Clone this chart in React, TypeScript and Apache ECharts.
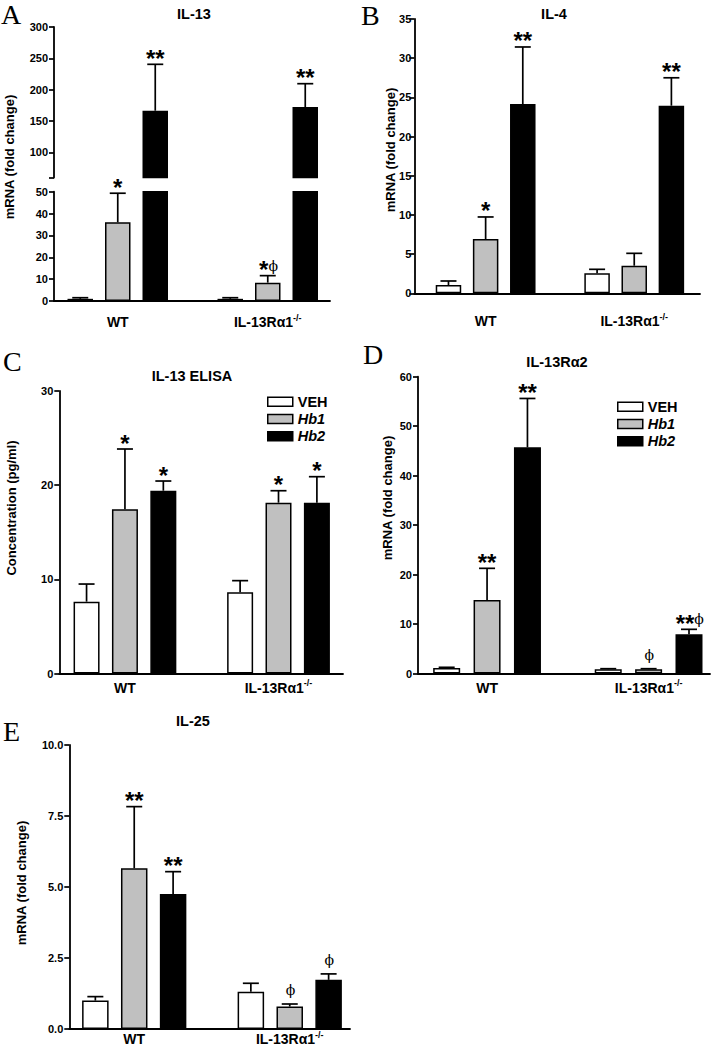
import React, { useEffect, useRef } from 'react';
import * as echarts from 'echarts';

const groups = ['WT', 'IL-13Rα1'];
const groupSup = ['', '-/-'];
const treatments = ['VEH', 'Hb1', 'Hb2'];

// rows: VEH, Hb1, Hb2 ; columns: WT, IL-13Rα1-/-
const il13Means = [[1.0, 1.0], [36.0, 8.4], [166.5, 172.4]];
const il13Tops = [[1.5, 1.5], [49.3, 11.6], [240.5, 209.6]];
const il13Sig = [['', ''], ['*', '*ϕ'], ['**', '**']];

const il4Means = [[1.06, 2.55], [6.93, 3.52], [24.15, 23.94]];
const il4Tops = [[1.57, 3.06], [9.74, 5.1], [31.43, 27.5]];
const il4Sig = [['', ''], ['*', ''], ['**', '**']];

const elisaMeans = [[7.63, 8.62], [17.43, 18.14], [19.41, 18.14]];
const elisaTops = [[9.5, 9.86], [23.84, 19.41], [20.44, 20.9]];
const elisaSig = [['', ''], ['*', '*'], ['*', '*']];

const ra2Means = [[1.1, 0.87], [14.86, 0.87], [45.72, 7.92]];
const ra2Tops = [[1.25, 0.97], [21.26, 0.97], [55.6, 8.93]];
const ra2Sig = [['', ''], ['**', 'ϕ'], ['**', '**ϕ']];

const il25Means = [[1.0, 1.31], [5.66, 0.79], [4.75, 1.73]];
const il25Tops = [[1.14, 1.61], [7.83, 0.88], [5.54, 1.94]];
const il25Sig = [['', ''], ['**', 'ϕ'], ['**', 'ϕ']];

const il13UpperTicks = [60, 100, 150, 200, 250, 300];
const il13UpperLabels = [100, 150, 200, 250, 300];

const FILL = ['#ffffff', '#c0c0c0', '#000000'];
const SANS = '"Liberation Sans", Arial, Helvetica, sans-serif';
const SERIF = '"Liberation Serif", "Times New Roman", serif';

const all = () => true;

function makeOption() {
  const parts: any[] = [
    { left: 54, top: 27, width: 276, height: 150.5, xMin: -0.7, xMax: 6.66, yMin: 60, yMax: 300,
      tickValues: il13UpperTicks, labelValues: il13UpperLabels, showX: false, labelMargin: 12, barWidth: 25.5, yMargin: 6,
      means: il13Means, tops: il13Tops, sig: il13Sig, barKeep: (m: number) => m > 60, errKeep: (m: number) => m > 60 },
    { left: 54, top: 191.7, width: 276, height: 109.3, xMin: -0.7, xMax: 6.66, yMin: 0, yMax: 50, interval: 10,
      showX: true, labelMargin: 12, barWidth: 25.5, yMargin: 6,
      means: il13Means, tops: il13Tops, sig: il13Sig, barKeep: all, errKeep: (m: number) => m <= 50 },
    { left: 414.3, top: 19, width: 285.7, height: 274.3, xMin: -0.92, xMax: 6.77, yMin: 0, yMax: 35, interval: 5,
      showX: true, labelMargin: 19, barWidth: 25.5, yMargin: 3,
      means: il4Means, tops: il4Tops, sig: il4Sig, barKeep: all, errKeep: all },
    { left: 59.3, top: 391, width: 283.7, height: 282.5, xMin: -0.71, xMax: 6.68, yMin: 0, yMax: 30, interval: 10,
      showX: true, labelMargin: 5, barWidth: 26, yMargin: 6,
      means: elisaMeans, tops: elisaTops, sig: elisaSig, barKeep: all, errKeep: all },
    { left: 418, top: 376.7, width: 292, height: 296.8, xMin: -0.71, xMax: 6.52, yMin: 0, yMax: 60, interval: 10,
      showX: true, labelMargin: 5, barWidth: 27, yMargin: 6,
      means: ra2Means, tops: ra2Tops, sig: ra2Sig, barKeep: all, errKeep: all },
    { left: 69.3, top: 745, width: 280.7, height: 284, xMin: -0.67, xMax: 6.55, yMin: 0, yMax: 10, interval: 2.5,
      showX: true, labelMargin: 1, barWidth: 26.5, yMargin: 6, fmt: (v: number) => v.toFixed(1),
      means: il25Means, tops: il25Tops, sig: il25Sig, barKeep: all, errKeep: all },
  ];

  const grid: any[] = [];
  const xAxis: any[] = [];
  const yAxis: any[] = [];
  const series: any[] = [];
  const axisLineStyle = { color: '#000', width: 1.8 };

  parts.forEach((p, i) => {
    grid.push({ left: p.left, top: p.top, width: p.width, height: p.height, containLabel: false, outerBoundsMode: 'none' });
    xAxis.push({
      type: 'value', gridIndex: i, min: p.xMin, max: p.xMax, show: p.showX,
      axisLine: { show: true, onZero: false, lineStyle: axisLineStyle },
      axisTick: { show: false }, splitLine: { show: false },
      axisLabel: {
        customValues: groups.map((_, g) => g * 4 + 1),
        margin: p.labelMargin,
        formatter: (v: number) => {
          const g = Math.round((v - 1) / 4);
          return '{a|' + groups[g] + '}' + (groupSup[g] ? '{s|' + groupSup[g] + '}' : '');
        },
        rich: {
          a: { fontSize: 14, fontWeight: 'bold', fontFamily: SANS, color: '#000', verticalAlign: 'bottom', lineHeight: 16 },
          s: { fontSize: 9, fontWeight: 'bold', fontFamily: SANS, color: '#000', verticalAlign: 'top', lineHeight: 10 },
        },
      },
    });
    yAxis.push({
      type: 'value', gridIndex: i, min: p.yMin, max: p.yMax, interval: p.interval,
      axisLine: { show: true, onZero: false, lineStyle: axisLineStyle },
      axisTick: { show: true, length: 5, inside: false, lineStyle: { color: '#000', width: 1.7 }, customValues: p.tickValues },
      splitLine: { show: false },
      axisLabel: {
        customValues: p.labelValues, margin: p.yMargin, fontSize: 11, fontWeight: 'bold', color: '#000', fontFamily: SANS,
        formatter: p.fmt,
      },
    });
    treatments.forEach((name, t) => {
      series.push({
        type: 'bar', name, xAxisIndex: i, yAxisIndex: i, barWidth: p.barWidth, barGap: '-100%', clip: true, silent: true,
        itemStyle: { color: FILL[t], borderColor: '#000', borderWidth: 1.5 },
        data: groups.map((_, g) => [g * 4 + t, p.means[t][g]]).filter((d) => p.barKeep(d[1])),
      });
    });
    const errData: number[][] = [];
    groups.forEach((_, g) => treatments.forEach((__, t) => {
      if (p.errKeep(p.means[t][g])) errData.push([g * 4 + t, p.means[t][g], p.tops[t][g], t, g]);
    }));
    series.push({
      type: 'custom', xAxisIndex: i, yAxisIndex: i, silent: true, z: 5, clip: false,
      data: errData,
      renderItem: (_params: any, api: any) => {
        const x = api.value(0), m = api.value(1), top = api.value(2), t = api.value(3), g = api.value(4);
        const pm = api.coord([x, m]);
        const pt = api.coord([x, top]);
        const ls = { stroke: '#000', lineWidth: 1.7 };
        const children: any[] = [
          { type: 'line', shape: { x1: pm[0], y1: pm[1], x2: pt[0], y2: pt[1] }, style: ls },
          { type: 'line', shape: { x1: pt[0] - 8, y1: pt[1], x2: pt[0] + 8, y2: pt[1] }, style: ls },
        ];
        const s: string = p.sig[t][g];
        if (s) {
          const stars = s.replace('ϕ', '');
          const hasPhi = s.indexOf('ϕ') >= 0;
          const starW = stars.length * 9.3;
          const phiW = hasPhi ? 8 : 0;
          const left = pt[0] - (starW + phiW) / 2;
          if (stars) {
            children.push({ type: 'text', x: left, y: pt[1] - 6,
              style: { text: stars, fill: '#000', font: 'bold 24px ' + SANS, align: 'left', verticalAlign: 'middle' } });
          }
          if (hasPhi) {
            children.push({ type: 'text', x: left + starW, y: pt[1] - (stars ? 10 : 14),
              style: { text: 'ϕ', fill: '#000', font: '14px "DejaVu Serif", serif', align: 'left', verticalAlign: 'middle' } });
          }
        }
        return { type: 'group', children };
      },
    });
  });

  const txt = (text: string, x: number, y: number, font: string, rot = 0, align = 'center') => ({
    type: 'text', x, y, rotation: rot, silent: true,
    style: { text, fill: '#000', font, align, verticalAlign: 'middle' },
  });
  const letterFont = '28px ' + SERIF;
  const titleFont = 'bold 14.5px ' + SANS;
  const nameFont = 'bold 13px ' + SANS;
  const R = Math.PI / 2;
  const graphic = [
    txt('A', 1, 14.5, letterFont, 0, 'left'),
    txt('B', 361, 15, letterFont, 0, 'left'),
    txt('C', 3, 361, letterFont, 0, 'left'),
    txt('D', 363, 354, letterFont, 0, 'left'),
    txt('E', 3, 731, letterFont, 0, 'left'),
    txt('IL-13', 194, 14, titleFont),
    txt('IL-4', 554, 14, titleFont),
    txt('IL-13 ELISA', 192, 376, titleFont),
    txt('IL-13Rα2', 557, 362, titleFont),
    txt('IL-25', 193, 721, titleFont),
    txt('mRNA (fold change)', 9.5, 157, nameFont, R),
    txt('mRNA (fold change)', 390, 150, nameFont, R),
    txt('Concentration (pg/ml)', 11, 508, nameFont, R),
    txt('mRNA (fold change)', 387.5, 498, nameFont, R),
    txt('mRNA (fold change)', 21, 883, nameFont, R),
  ];

  const legendBase = {
    orient: 'vertical', itemWidth: 25, itemHeight: 9, itemGap: 0, icon: 'rect', padding: 0,
    selectedMode: false, data: treatments,
    itemStyle: { borderColor: '#000', borderWidth: 1.5 },
    formatter: (name: string) => (name === 'VEH' ? '{b|' + name + '}' : '{i|' + name + '}'),
    textStyle: {
      color: '#000', fontSize: 14.5, fontWeight: 'bold', fontFamily: SANS, lineHeight: 17.3,
      rich: {
        b: { color: '#000', fontSize: 14.5, fontWeight: 'bold', fontFamily: SANS, lineHeight: 17.3 },
        i: { color: '#000', fontSize: 14.5, fontWeight: 'bold', fontStyle: 'italic', fontFamily: SANS, lineHeight: 17.3 },
      },
    },
  };

  return {
    animation: false,
    backgroundColor: '#ffffff',
    textStyle: { fontFamily: SANS },
    grid, xAxis, yAxis, series, graphic,
    legend: [
      { ...legendBase, left: 267, top: 393 },
      { ...legendBase, left: 617, top: 398 },
    ],
  };
}

export default function App() {
  const ref = useRef<HTMLDivElement>(null);
  useEffect(() => {
    document.body.style.margin = '0';
    const chart = echarts.init(ref.current!, undefined, { renderer: 'svg' });
    chart.setOption(makeOption() as any);
    return () => chart.dispose();
  }, []);
  return <div ref={ref} style={{ position: 'absolute', left: 0, top: 0, width: 718, height: 1047 }} />;
}
